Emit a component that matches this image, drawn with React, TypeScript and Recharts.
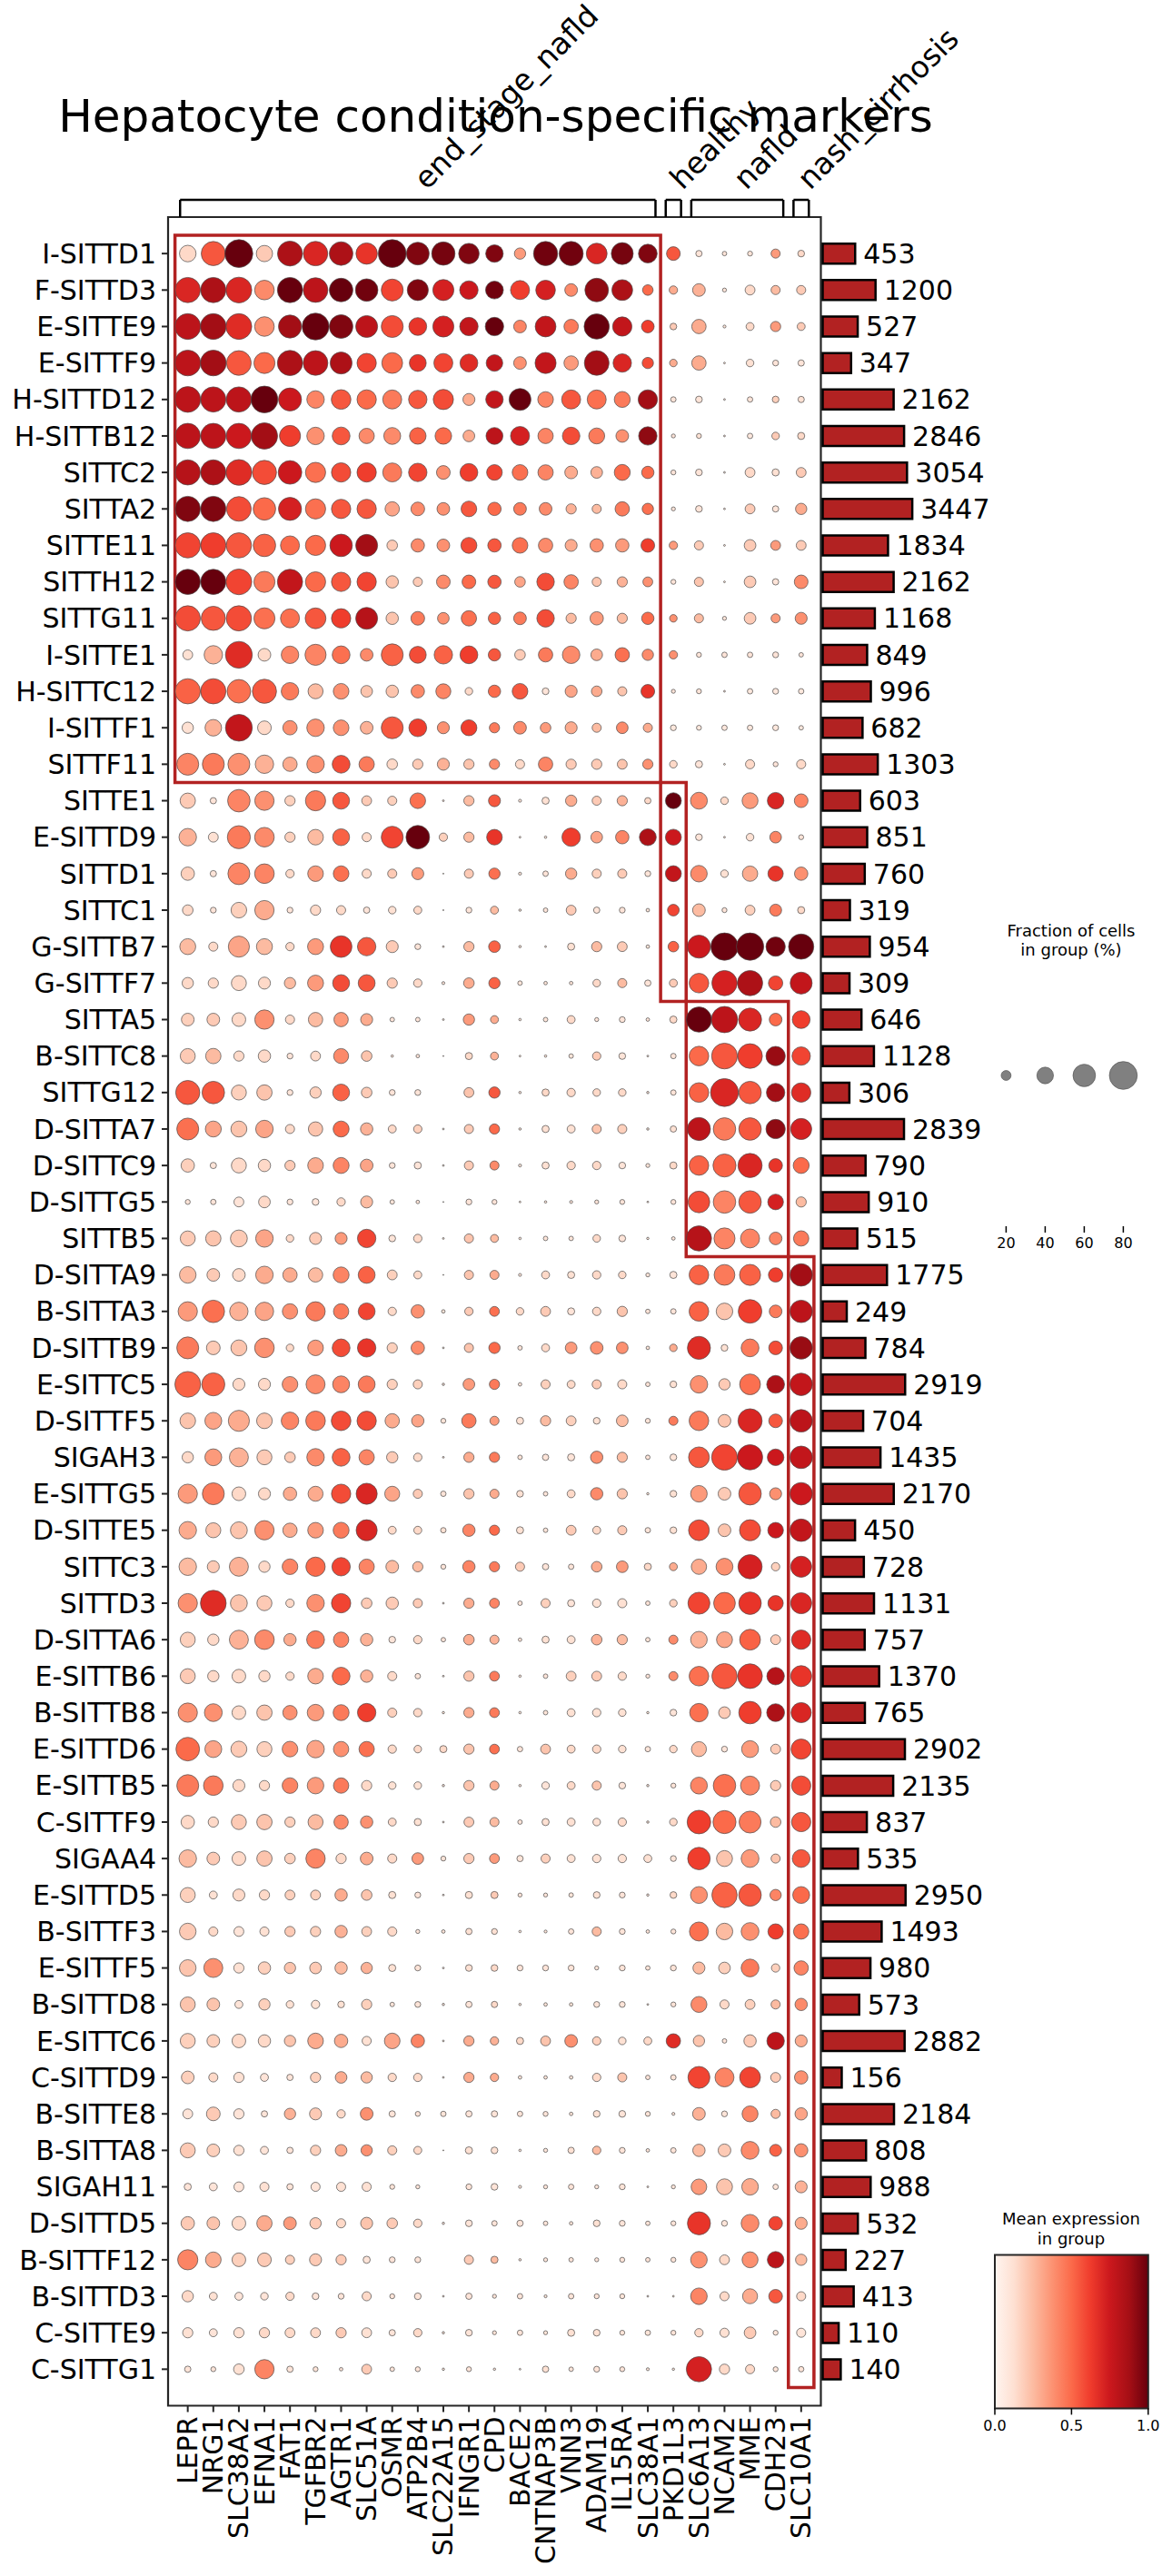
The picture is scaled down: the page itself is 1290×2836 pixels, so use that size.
import {
  Bar,
  BarChart,
  LabelList,
  ReferenceArea,
  ReferenceDot,
  ReferenceLine,
  Scatter,
  ScatterChart,
  XAxis,
  YAxis,
} from "recharts"

const FONT = "'DejaVu Sans', Verdana, sans-serif"
const W = 1290
const H = 2836

const genes = [
  "LEPR", "NRG1", "SLC38A2", "EFNA1", "FAT1", "TGFBR2", "AGTR1", "SLC51A", "OSMR",
  "ATP2B4", "SLC22A15", "IFNGR1", "CPD", "BACE2", "CNTNAP3B", "VNN3", "ADAM19",
  "IL15RA", "SLC38A1", "PKD1L3", "SLC6A13", "NCAM2", "MME", "CDH23", "SLC10A1",
]

const conditions = ["end_stage_nafld", "healthy", "nafld", "nash_cirrhosis"]
const genesPerCondition = [19, 1, 4, 1]
const rowsPerCondition = [15, 6, 7, 31]

const cellTypes = [
  "I-SITTD1", "F-SITTD3", "E-SITTE9", "E-SITTF9", "H-SITTD12", "H-SITTB12", "SITTC2",
  "SITTA2", "SITTE11", "SITTH12", "SITTG11", "I-SITTE1", "H-SITTC12", "I-SITTF1", "SITTF11",
  "SITTE1", "E-SITTD9", "SITTD1", "SITTC1", "G-SITTB7", "G-SITTF7",
  "SITTA5", "B-SITTC8", "SITTG12", "D-SITTA7", "D-SITTC9", "D-SITTG5", "SITTB5",
  "D-SITTA9", "B-SITTA3", "D-SITTB9", "E-SITTC5", "D-SITTF5", "SIGAH3", "E-SITTG5",
  "D-SITTE5", "SITTC3", "SITTD3", "D-SITTA6", "E-SITTB6", "B-SITTB8", "E-SITTD6",
  "E-SITTB5", "C-SITTF9", "SIGAA4", "E-SITTD5", "B-SITTF3", "E-SITTF5", "B-SITTD8",
  "E-SITTC6", "C-SITTD9", "B-SITTE8", "B-SITTA8", "SIGAH11", "D-SITTD5", "B-SITTF12",
  "B-SITTD3", "C-SITTE9", "C-SITTG1",
]

const cellCounts = [
  453, 1200, 527, 347, 2162, 2846, 3054, 3447, 1834, 2162, 1168, 849, 996, 682, 1303,
  603, 851, 760, 319, 954, 309,
  646, 1128, 306, 2839, 790, 910, 515,
  1775, 249, 784, 2919, 704, 1435, 2170, 450, 728, 1131, 757, 1370, 765, 2902, 2135,
  837, 535, 2950, 1493, 980, 573, 2882, 156, 2184, 808, 988, 532, 227, 413, 110, 140,
]

// fraction of cells expressing (%), one row per cell type, one column per gene
const fractionPct = [
  [40, 66, 80, 39, 69, 67, 64, 56, 80, 61, 63, 53, 43, 24, 66, 66, 54, 58, 47, 31, 11, 7, 8, 18, 12],
  [70, 70, 72, 50, 70, 68, 64, 60, 58, 55, 55, 46, 44, 48, 50, 28, 64, 54, 22, 16, 28, 6, 20, 18, 18],
  [72, 72, 72, 50, 62, 76, 64, 58, 58, 44, 55, 46, 46, 28, 54, 33, 70, 49, 28, 12, 33, 4, 15, 21, 15],
  [72, 72, 68, 55, 70, 68, 58, 49, 54, 41, 48, 44, 40, 28, 55, 33, 68, 46, 24, 14, 33, 2, 14, 10, 11],
  [72, 70, 70, 76, 62, 43, 50, 49, 48, 46, 52, 26, 43, 58, 37, 48, 48, 38, 49, 9, 12, 2, 9, 12, 11],
  [70, 70, 70, 74, 55, 43, 44, 36, 41, 40, 40, 25, 41, 48, 36, 43, 38, 28, 46, 6, 8, 2, 9, 14, 13],
  [70, 70, 72, 66, 64, 52, 49, 49, 48, 46, 31, 44, 37, 37, 36, 28, 25, 38, 27, 8, 12, 2, 20, 13, 20],
  [70, 70, 68, 60, 62, 52, 49, 49, 33, 31, 28, 37, 30, 28, 28, 21, 18, 33, 24, 6, 12, 2, 20, 11, 24],
  [70, 70, 70, 60, 48, 52, 60, 58, 22, 30, 28, 38, 30, 37, 33, 26, 30, 30, 31, 16, 18, 2, 25, 20, 20],
  [70, 70, 72, 55, 70, 52, 49, 49, 27, 18, 31, 31, 30, 22, 43, 33, 18, 21, 20, 8, 18, 2, 25, 11, 31],
  [70, 66, 70, 55, 48, 54, 49, 58, 27, 31, 25, 36, 27, 28, 43, 21, 30, 21, 27, 14, 18, 6, 25, 18, 26],
  [20, 46, 76, 28, 43, 55, 44, 28, 58, 41, 46, 44, 27, 22, 33, 43, 25, 33, 24, 16, 8, 9, 9, 10, 7],
  [70, 70, 64, 66, 43, 35, 37, 25, 27, 30, 35, 14, 27, 37, 12, 26, 22, 18, 31, 6, 8, 2, 9, 10, 9],
  [24, 40, 76, 31, 33, 43, 37, 28, 58, 44, 26, 38, 21, 28, 22, 26, 18, 25, 18, 10, 8, 9, 9, 10, 7],
  [58, 58, 58, 46, 33, 43, 44, 36, 22, 21, 26, 21, 21, 18, 33, 21, 21, 20, 21, 14, 13, 2, 18, 8, 18],
  [36, 11, 60, 49, 21, 52, 41, 20, 18, 37, 2, 21, 26, 4, 13, 24, 18, 21, 11, 38, 41, 14, 38, 40, 31],
  [43, 20, 62, 50, 21, 37, 41, 18, 58, 64, 16, 21, 37, 2, 3, 46, 25, 30, 41, 38, 12, 2, 14, 25, 8],
  [30, 11, 58, 50, 16, 37, 37, 18, 18, 26, 1, 18, 24, 4, 9, 24, 18, 18, 10, 38, 40, 14, 36, 36, 30],
  [22, 10, 37, 49, 10, 21, 18, 11, 14, 15, 1, 10, 15, 3, 7, 20, 11, 10, 5, 25, 28, 8, 20, 26, 13],
  [38, 18, 55, 38, 16, 38, 57, 46, 26, 10, 2, 21, 25, 3, 2, 13, 21, 20, 5, 22, 62, 78, 78, 49, 70],
  [24, 21, 35, 26, 24, 38, 41, 41, 21, 16, 4, 22, 24, 7, 5, 5, 14, 18, 11, 15, 50, 70, 70, 33, 58],
  [28, 28, 31, 49, 18, 33, 33, 26, 7, 7, 2, 24, 15, 3, 7, 15, 6, 10, 5, 13, 70, 74, 62, 28, 44],
  [35, 36, 21, 27, 10, 20, 35, 22, 3, 5, 1, 13, 15, 2, 3, 7, 16, 12, 2, 9, 50, 72, 68, 49, 46],
  [66, 60, 35, 36, 10, 24, 41, 22, 10, 10, 0, 20, 24, 3, 13, 16, 14, 14, 3, 9, 50, 80, 60, 46, 49],
  [58, 38, 38, 43, 18, 33, 38, 27, 15, 16, 2, 18, 21, 3, 13, 15, 18, 18, 3, 11, 62, 60, 60, 49, 55],
  [30, 11, 35, 27, 21, 37, 38, 28, 10, 13, 2, 18, 18, 4, 13, 16, 16, 12, 6, 13, 50, 62, 66, 31, 38],
  [8, 9, 20, 25, 10, 12, 16, 26, 7, 5, 1, 10, 8, 2, 3, 4, 6, 8, 2, 8, 57, 60, 60, 37, 21],
  [35, 36, 41, 43, 14, 26, 26, 46, 12, 16, 2, 18, 15, 3, 7, 7, 14, 12, 3, 5, 70, 55, 48, 28, 36],
  [40, 28, 28, 43, 33, 33, 38, 41, 20, 15, 1, 18, 18, 4, 15, 13, 16, 14, 6, 13, 50, 54, 55, 33, 60],
  [49, 60, 46, 46, 36, 49, 36, 41, 16, 30, 5, 16, 20, 14, 20, 13, 16, 21, 7, 9, 50, 40, 64, 28, 60],
  [58, 31, 38, 50, 14, 37, 44, 46, 21, 30, 2, 18, 24, 7, 15, 25, 28, 25, 5, 14, 62, 12, 44, 31, 60],
  [72, 62, 26, 26, 37, 48, 41, 41, 21, 18, 3, 25, 21, 5, 18, 15, 18, 18, 7, 12, 43, 24, 54, 44, 60],
  [37, 41, 55, 37, 43, 50, 50, 49, 33, 27, 8, 33, 18, 13, 21, 20, 12, 25, 8, 18, 50, 28, 66, 31, 60],
  [24, 41, 48, 35, 22, 43, 44, 36, 24, 16, 2, 21, 21, 7, 11, 13, 27, 21, 7, 12, 54, 72, 70, 40, 60],
  [49, 58, 31, 26, 30, 35, 49, 55, 35, 18, 9, 21, 18, 12, 7, 15, 27, 21, 3, 12, 40, 28, 60, 26, 60],
  [43, 35, 41, 49, 33, 37, 38, 55, 15, 15, 9, 27, 21, 13, 7, 20, 15, 18, 9, 12, 54, 28, 55, 37, 60],
  [43, 26, 48, 24, 37, 49, 46, 36, 28, 21, 8, 27, 21, 18, 11, 9, 22, 25, 13, 15, 36, 41, 66, 16, 55],
  [49, 72, 41, 35, 16, 43, 49, 22, 27, 18, 2, 21, 20, 7, 18, 13, 16, 18, 7, 14, 58, 57, 60, 36, 55],
  [35, 24, 48, 50, 27, 44, 36, 27, 12, 16, 7, 22, 18, 5, 13, 15, 22, 21, 7, 18, 40, 38, 54, 20, 49],
  [35, 24, 31, 24, 16, 37, 44, 27, 18, 9, 2, 21, 20, 3, 7, 20, 20, 16, 6, 18, 50, 70, 68, 43, 55],
  [49, 44, 31, 36, 33, 40, 38, 46, 18, 16, 3, 21, 20, 3, 7, 15, 16, 14, 3, 12, 46, 25, 60, 44, 52],
  [64, 41, 38, 35, 37, 43, 36, 36, 16, 14, 13, 21, 20, 9, 20, 15, 16, 14, 9, 14, 35, 10, 41, 20, 52],
  [58, 50, 26, 21, 37, 40, 36, 21, 14, 14, 3, 21, 18, 3, 14, 15, 18, 12, 3, 8, 41, 60, 48, 21, 49],
  [30, 21, 35, 36, 21, 35, 33, 27, 15, 13, 2, 20, 18, 7, 13, 15, 14, 16, 3, 14, 64, 62, 58, 22, 49],
  [43, 28, 31, 36, 22, 49, 21, 28, 18, 25, 8, 21, 20, 11, 18, 15, 16, 16, 15, 10, 60, 38, 44, 18, 44],
  [35, 15, 26, 21, 20, 20, 27, 22, 13, 10, 2, 13, 13, 6, 6, 7, 12, 10, 3, 12, 41, 70, 60, 24, 41],
  [40, 18, 20, 18, 21, 21, 27, 20, 18, 6, 5, 11, 10, 3, 4, 9, 18, 10, 5, 8, 48, 40, 44, 36, 36],
  [40, 48, 21, 27, 24, 25, 27, 24, 13, 10, 2, 12, 12, 10, 10, 10, 6, 10, 7, 10, 26, 25, 44, 16, 33],
  [35, 28, 15, 24, 14, 16, 12, 21, 7, 10, 3, 11, 11, 3, 5, 5, 10, 10, 2, 8, 38, 18, 20, 18, 27],
  [35, 28, 31, 27, 24, 37, 30, 18, 37, 30, 2, 21, 16, 13, 20, 28, 16, 14, 15, 33, 24, 7, 27, 43, 26],
  [28, 18, 21, 15, 11, 21, 25, 24, 16, 16, 2, 21, 16, 5, 5, 5, 16, 18, 7, 9, 58, 48, 54, 20, 30],
  [20, 31, 21, 11, 24, 26, 16, 28, 11, 8, 9, 11, 11, 9, 8, 5, 12, 12, 8, 4, 28, 10, 38, 18, 27],
  [35, 28, 21, 15, 11, 21, 25, 24, 18, 15, 1, 13, 12, 3, 6, 11, 16, 10, 5, 9, 27, 28, 44, 26, 30],
  [13, 15, 20, 18, 11, 18, 18, 18, 8, 6, 0, 10, 12, 4, 6, 9, 6, 10, 2, 6, 37, 38, 40, 9, 26],
  [30, 28, 31, 36, 28, 24, 18, 26, 22, 16, 3, 12, 9, 11, 7, 5, 12, 10, 7, 8, 62, 10, 44, 31, 26],
  [52, 37, 31, 31, 18, 26, 21, 13, 10, 10, 0, 18, 13, 3, 6, 7, 6, 8, 7, 8, 40, 20, 38, 40, 24],
  [24, 15, 15, 14, 16, 12, 10, 18, 8, 12, 2, 11, 6, 9, 4, 9, 8, 8, 2, 2, 40, 18, 35, 31, 18],
  [21, 15, 21, 21, 20, 20, 21, 20, 11, 16, 3, 12, 6, 9, 6, 13, 12, 8, 9, 8, 16, 18, 25, 8, 18],
  [11, 8, 22, 49, 11, 8, 5, 20, 7, 8, 3, 8, 3, 2, 11, 7, 10, 8, 4, 3, 70, 21, 18, 8, 9],
]

// scaled mean expression (0..1), same layout
const meanExpr = [
  [.15, .55, 1, .2, .85, .7, .85, .65, 1, .95, .97, .95, .95, .35, .98, .98, .7, .97, .95, .55, .1, .1, .1, .35, .15],
  [.7, .85, .7, .4, 1, .8, 1, .98, .6, .95, .72, .75, .98, .62, .72, .4, .92, .85, .5, .3, .28, .1, .15, .25, .2],
  [.8, .88, .68, .38, .88, 1, .95, .8, .58, .65, .72, .78, 1, .42, .78, .45, 1, .78, .62, .2, .3, .1, .15, .35, .2],
  [.8, .88, .55, .5, .85, .8, .85, .6, .5, .65, .6, .68, .78, .38, .78, .35, .88, .7, .58, .3, .3, .1, .12, .1, .1],
  [.8, .8, .8, 1, .75, .42, .55, .5, .45, .55, .58, .3, .78, 1, .42, .55, .48, .45, .88, .1, .1, .1, .1, .18, .12],
  [.8, .8, .75, .88, .62, .38, .55, .4, .4, .52, .5, .3, .8, .72, .42, .58, .45, .38, .92, .1, .12, .1, .08, .2, .15],
  [.82, .85, .68, .58, .75, .48, .58, .62, .45, .6, .38, .62, .6, .48, .42, .3, .28, .5, .5, .1, .1, .1, .15, .12, .2],
  [.95, .95, .58, .5, .72, .48, .55, .55, .32, .4, .38, .55, .5, .45, .4, .28, .25, .45, .48, .1, .1, .1, .2, .1, .3],
  [.6, .62, .55, .52, .5, .5, .75, .88, .2, .4, .38, .58, .55, .48, .4, .3, .38, .35, .62, .35, .2, .1, .2, .35, .2],
  [1, 1, .6, .45, .78, .5, .55, .6, .22, .2, .4, .5, .55, .32, .58, .42, .22, .28, .38, .1, .22, .1, .2, .1, .4],
  [.58, .55, .58, .48, .48, .55, .62, .82, .22, .45, .38, .48, .52, .45, .58, .25, .35, .25, .5, .38, .25, .1, .2, .35, .38],
  [.12, .28, .68, .15, .42, .42, .48, .4, .52, .58, .52, .62, .55, .2, .45, .4, .3, .48, .4, .38, .1, .1, .1, .1, .1],
  [.52, .58, .48, .55, .45, .25, .38, .22, .22, .4, .42, .15, .5, .55, .1, .32, .3, .22, .65, .1, .1, .1, .08, .08, .08],
  [.12, .28, .78, .15, .38, .38, .38, .28, .55, .62, .38, .62, .45, .4, .35, .3, .25, .4, .3, .08, .08, .08, .08, .08, .08],
  [.42, .45, .38, .28, .3, .38, .58, .45, .15, .2, .28, .22, .4, .15, .42, .2, .2, .22, .38, .15, .1, .1, .15, .1, .15],
  [.2, .1, .42, .38, .18, .45, .55, .2, .18, .48, .1, .25, .55, .1, .12, .3, .2, .28, .15, 1, .4, .15, .35, .7, .42],
  [.28, .12, .45, .4, .18, .25, .52, .15, .6, 1, .18, .25, .65, .1, .1, .62, .32, .42, .85, .75, .1, .1, .12, .42, .1],
  [.18, .1, .42, .42, .15, .35, .48, .15, .2, .35, .1, .2, .48, .1, .1, .3, .18, .2, .1, .78, .4, .12, .3, .65, .38],
  [.15, .1, .18, .3, .1, .15, .15, .1, .12, .15, .1, .1, .25, .1, .1, .2, .1, .1, .1, .6, .25, .1, .18, .45, .15],
  [.25, .15, .32, .25, .15, .35, .65, .55, .2, .1, .1, .25, .52, .1, .1, .12, .25, .2, .1, .52, .75, 1, 1, .98, 1],
  [.15, .15, .15, .15, .25, .35, .58, .55, .2, .15, .1, .3, .52, .1, .1, .1, .15, .25, .1, .2, .55, .72, .85, .6, .78],
  [.18, .2, .15, .38, .15, .25, .35, .3, .1, .1, .1, .35, .3, .1, .1, .15, .1, .1, .1, .15, 1, .8, .7, .5, .62],
  [.2, .25, .15, .15, .1, .15, .4, .22, .1, .1, .1, .15, .28, .1, .1, .1, .2, .1, .1, .1, .5, .55, .62, .9, .6],
  [.55, .55, .18, .22, .1, .18, .52, .2, .1, .1, .1, .22, .55, .1, .15, .15, .15, .15, .1, .1, .52, .7, .55, .88, .68],
  [.48, .32, .22, .32, .15, .22, .5, .28, .15, .18, .1, .2, .5, .1, .12, .12, .22, .18, .1, .12, .8, .45, .55, .92, .72],
  [.18, .1, .15, .15, .2, .3, .42, .32, .1, .1, .1, .2, .4, .1, .12, .15, .15, .1, .1, .15, .52, .52, .7, .65, .5],
  [.1, .1, .1, .15, .1, .1, .15, .25, .1, .1, .1, .1, .1, .1, .1, .1, .1, .1, .1, .1, .58, .42, .55, .72, .25],
  [.2, .22, .2, .32, .15, .2, .35, .6, .1, .15, .1, .22, .25, .1, .1, .1, .15, .1, .1, .1, .82, .42, .42, .42, .45],
  [.25, .2, .15, .3, .3, .25, .42, .52, .18, .15, .1, .22, .3, .1, .15, .12, .15, .15, .1, .1, .52, .45, .52, .62, .88],
  [.35, .48, .28, .32, .38, .45, .45, .6, .15, .38, .1, .2, .48, .15, .2, .1, .15, .22, .1, .1, .52, .22, .62, .45, .8],
  [.45, .2, .22, .38, .15, .35, .58, .65, .18, .4, .1, .22, .5, .1, .15, .35, .38, .38, .1, .3, .68, .12, .45, .58, .9],
  [.52, .52, .15, .15, .38, .4, .42, .45, .18, .18, .1, .35, .45, .1, .18, .15, .2, .15, .1, .12, .38, .2, .48, .85, .78],
  [.22, .32, .3, .22, .42, .45, .58, .58, .3, .32, .1, .45, .35, .12, .25, .18, .12, .25, .1, .45, .45, .22, .7, .55, .8],
  [.15, .35, .28, .2, .2, .4, .52, .42, .2, .15, .1, .3, .45, .1, .1, .1, .38, .25, .1, .1, .55, .6, .75, .75, .78],
  [.35, .45, .15, .15, .3, .3, .58, .7, .32, .2, .1, .22, .3, .12, .1, .15, .4, .22, .1, .12, .35, .2, .55, .38, .75],
  [.3, .22, .22, .38, .3, .35, .45, .7, .15, .15, .12, .42, .5, .12, .1, .2, .15, .2, .1, .12, .58, .22, .58, .75, .78],
  [.25, .2, .28, .15, .42, .5, .6, .42, .25, .25, .1, .42, .45, .2, .1, .1, .3, .35, .15, .3, .3, .38, .72, .18, .72],
  [.38, .68, .22, .2, .15, .38, .6, .2, .2, .2, .1, .3, .42, .1, .18, .1, .12, .12, .1, .18, .6, .5, .65, .65, .7],
  [.18, .15, .28, .4, .3, .45, .42, .28, .1, .15, .1, .3, .28, .1, .12, .12, .28, .25, .1, .4, .28, .32, .52, .2, .68],
  [.2, .15, .15, .15, .15, .3, .5, .28, .15, .1, .1, .22, .45, .1, .1, .18, .2, .15, .1, .4, .48, .55, .65, .82, .65],
  [.38, .38, .15, .22, .38, .35, .45, .62, .18, .15, .1, .3, .45, .1, .1, .12, .12, .12, .1, .1, .48, .2, .62, .85, .7],
  [.5, .32, .2, .18, .38, .32, .38, .48, .15, .15, .15, .22, .48, .1, .22, .15, .15, .12, .1, .15, .25, .1, .35, .2, .6],
  [.45, .45, .15, .15, .42, .35, .45, .15, .12, .12, .1, .22, .3, .1, .1, .15, .22, .1, .1, .1, .42, .48, .42, .2, .58],
  [.15, .15, .2, .22, .18, .25, .4, .38, .15, .12, .1, .2, .25, .1, .12, .12, .12, .15, .1, .15, .62, .5, .45, .25, .55],
  [.25, .2, .15, .22, .18, .42, .15, .3, .15, .35, .1, .2, .35, .1, .18, .12, .12, .12, .12, .1, .62, .22, .35, .22, .55],
  [.18, .12, .15, .15, .18, .18, .3, .22, .12, .1, .1, .12, .2, .1, .1, .1, .12, .1, .1, .15, .38, .52, .55, .42, .5],
  [.2, .15, .1, .12, .2, .18, .28, .18, .15, .1, .1, .12, .12, .1, .1, .1, .25, .1, .1, .1, .48, .25, .38, .62, .48],
  [.22, .38, .12, .18, .22, .2, .25, .28, .12, .1, .1, .12, .15, .1, .1, .1, .1, .1, .1, .1, .25, .18, .45, .18, .42],
  [.22, .22, .1, .18, .12, .12, .12, .18, .1, .1, .1, .1, .15, .1, .1, .1, .1, .1, .1, .1, .4, .15, .18, .25, .4],
  [.18, .18, .15, .15, .22, .3, .3, .12, .32, .42, .1, .3, .28, .15, .22, .38, .18, .12, .15, .68, .22, .1, .2, .8, .3],
  [.18, .15, .12, .1, .1, .18, .3, .25, .15, .15, .1, .3, .3, .1, .1, .1, .15, .22, .1, .1, .6, .42, .6, .2, .38],
  [.1, .2, .1, .1, .28, .2, .15, .38, .1, .1, .1, .1, .1, .1, .1, .1, .12, .1, .1, .1, .28, .1, .42, .25, .32],
  [.2, .18, .12, .1, .1, .18, .3, .38, .18, .15, .1, .12, .12, .1, .1, .12, .25, .1, .1, .1, .25, .2, .4, .52, .38],
  [.1, .1, .1, .12, .1, .1, .12, .12, .1, .1, .1, .1, .1, .1, .1, .1, .1, .1, .1, .1, .35, .22, .3, .1, .28],
  [.2, .22, .15, .3, .35, .2, .15, .22, .2, .15, .1, .1, .1, .1, .1, .1, .12, .1, .1, .1, .65, .1, .4, .6, .3],
  [.42, .3, .18, .2, .18, .2, .2, .1, .1, .1, .1, .2, .25, .1, .1, .1, .1, .1, .1, .1, .38, .15, .38, .8, .25],
  [.15, .12, .1, .1, .15, .1, .1, .15, .1, .1, .1, .1, .1, .1, .1, .1, .1, .1, .1, .1, .42, .15, .3, .55, .15],
  [.12, .1, .12, .15, .15, .15, .2, .12, .1, .15, .1, .1, .1, .1, .1, .12, .12, .1, .1, .1, .15, .12, .2, .1, .1],
  [.1, .1, .12, .42, .1, .1, .1, .2, .1, .1, .1, .1, .1, .1, .12, .1, .1, .1, .1, .1, .72, .15, .15, .1, .1],
]

const legendSizes = [20, 40, 60, 80]
const colorbarTicks = [0, 0.5, 1]

// matplotlib "Reds"
const redsStops = [
  "#fff5f0", "#fee0d2", "#fcbba1", "#fc9272", "#fb6a4a",
  "#ef3b2c", "#cb181d", "#a50f15", "#67000d",
]

function hexToRgb(hex: string) {
  const n = parseInt(hex.slice(1), 16)
  return [(n >> 16) & 255, (n >> 8) & 255, n & 255]
}

function reds(t: number) {
  const v = Math.max(0, Math.min(1, t)) * (redsStops.length - 1)
  const i = Math.min(redsStops.length - 2, Math.floor(v))
  const f = v - i
  const a = hexToRgb(redsStops[i])
  const b = hexToRgb(redsStops[i + 1])
  const c = a.map((x, k) => Math.round(x + (b[k] - x) * f))
  return `rgb(${c[0]},${c[1]},${c[2]})`
}

// scanpy: area ~ (frac / dot_max) ** 1.5
const DOT_MAX_PCT = 80
const DOT_MAX_PX = 30.7
function dotRadius(pct: number) {
  return (DOT_MAX_PX * Math.pow(pct / DOT_MAX_PCT, 0.75)) / 2
}

function spans(counts: number[]) {
  let s = 0
  return counts.map((n) => {
    const a = s
    s += n
    return [a, s - 1]
  })
}

const geneSpans = spans(genesPerCondition)
const rowSpans = spans(rowsPerCondition)
const geneIdx = genes.map((_, i) => i)
const rowIdx = cellTypes.map((_, i) => i)

const dots = cellTypes.flatMap((_, r) =>
  genes
    .map((_, c) => ({ x: c, y: r, frac: fractionPct[r][c], expr: meanExpr[r][c] }))
    .filter((d) => d.frac > 0),
)

const barData = cellTypes.map((name, i) => ({ name, count: cellCounts[i] }))
const legendData = legendSizes.map((v) => ({ x: v, y: 1, frac: v }))
const colorbarData = [{ name: "mean expression", value: 1 }]

const BRACKET_Y = -1.473
const BRACKET_PAD = 0.3

function DotShape(props: any) {
  const { cx, cy, payload } = props
  return (
    <circle
      cx={cx}
      cy={cy}
      r={dotRadius(payload.frac)}
      fill={reds(payload.expr)}
      stroke="#4a4a4a"
      strokeWidth={0.7}
    />
  )
}

function LegendDot(props: any) {
  const { cx, cy, payload } = props
  return (
    <circle cx={cx} cy={cy} r={dotRadius(payload.frac)} fill="#808080" stroke="#555" strokeWidth={0.7} />
  )
}

function GeneTick(props: any) {
  const { x, y, payload } = props
  return (
    <text
      x={x}
      y={y}
      transform={`rotate(-90 ${x} ${y})`}
      textAnchor="end"
      dominantBaseline="central"
      fontSize={30}
      fontFamily={FONT}
      fill="#000"
    >
      {genes[payload.value]}
    </text>
  )
}

function GroupLabel(props: any) {
  const { viewBox, text } = props
  if (!viewBox) return null
  const x = viewBox.x + 10
  const y = viewBox.y - 10
  return (
    <text x={x} y={y} transform={`rotate(-45 ${x} ${y})`} fontSize={33} fontFamily={FONT} fill="#000">
      {text}
    </text>
  )
}

const layer: React.CSSProperties = { position: "absolute", left: 0, top: 0 }

export default function App() {
  return (
    <div style={{ position: "relative", width: W, height: H, background: "#fff", fontFamily: FONT }}>
      <style>{"body{margin:0}"}</style>

      <div style={layer}>
        <ScatterChart width={W} height={H} margin={{ top: 239, right: 386.5, bottom: 0, left: 0 }}>
          <XAxis
            type="number"
            dataKey="x"
            domain={[-0.77, 24.77]}
            ticks={geneIdx}
            interval={0}
            allowDataOverflow
            height={187.5}
            axisLine={false}
            tickSize={7}
            tickMargin={5}
            tickLine={{ stroke: "#262626", strokeWidth: 2 }}
            tick={<GeneTick />}
          />
          <YAxis
            type="number"
            dataKey="y"
            domain={[-1, 59]}
            reversed
            ticks={rowIdx}
            interval={0}
            allowDataOverflow
            width={185}
            axisLine={false}
            tickSize={7}
            tickMargin={6}
            tickLine={{ stroke: "#262626", strokeWidth: 2 }}
            tick={{ fontSize: 30, fill: "#000", fontFamily: FONT }}
            tickFormatter={(i: number) => cellTypes[i]}
          />
          <Scatter data={dots} shape={DotShape} isAnimationActive={false} />
          {conditions.map((c, k) => (
            <ReferenceArea
              key={`box-${c}`}
              x1={geneSpans[k][0] - 0.5}
              x2={geneSpans[k][1] + 0.5}
              y1={rowSpans[k][0] - 0.5}
              y2={rowSpans[k][1] + 0.5}
              fill="none"
              fillOpacity={0}
              stroke="#b22222"
              strokeWidth={3.5}
              ifOverflow="visible"
            />
          ))}
          <ReferenceArea
            x1={-0.77}
            x2={24.77}
            y1={-1}
            y2={59}
            fill="none"
            fillOpacity={0}
            stroke="#262626"
            strokeWidth={2.2}
            ifOverflow="visible"
          />
          {conditions.map((c, k) => {
            const a = geneSpans[k][0] - BRACKET_PAD
            const b = geneSpans[k][1] + BRACKET_PAD
            return [
              <ReferenceLine
                key={`bt-${c}`}
                segment={[{ x: a, y: BRACKET_Y }, { x: b, y: BRACKET_Y }]}
                stroke="#000"
                strokeWidth={2.5}
                ifOverflow="visible"
              />,
              <ReferenceLine
                key={`bl-${c}`}
                segment={[{ x: a, y: BRACKET_Y }, { x: a, y: -1 }]}
                stroke="#000"
                strokeWidth={2.5}
                ifOverflow="visible"
              />,
              <ReferenceLine
                key={`br-${c}`}
                segment={[{ x: b, y: BRACKET_Y }, { x: b, y: -1 }]}
                stroke="#000"
                strokeWidth={2.5}
                ifOverflow="visible"
              />,
              <ReferenceDot
                key={`bd-${c}`}
                x={(geneSpans[k][0] + geneSpans[k][1]) / 2}
                y={BRACKET_Y}
                r={0.01}
                fill="none"
                stroke="none"
                ifOverflow="visible"
                label={<GroupLabel text={c} />}
              />,
            ]
          })}
        </ScatterChart>
      </div>

      <div style={layer}>
        <BarChart
          width={W}
          height={H}
          layout="vertical"
          data={barData}
          margin={{ top: 259.2, right: 216.5, bottom: 207.3, left: 905.5 }}
          barCategoryGap={0}
        >
          <XAxis type="number" scale="sqrt" domain={[0, 10000]} hide />
          <YAxis type="category" dataKey="name" hide />
          <Bar dataKey="count" fill="#b22222" stroke="#000" strokeWidth={2.5} barSize={22} isAnimationActive={false}>
            <LabelList dataKey="count" position="right" offset={9} fill="#000" fontSize={30} fontFamily={FONT} />
          </Bar>
        </BarChart>
      </div>

      <div style={layer}>
        <ScatterChart width={W} height={H} margin={{ top: 1184, right: 10.6, bottom: 1446, left: 1064.4 }}>
          <XAxis
            type="number"
            dataKey="x"
            domain={[0, 100]}
            ticks={legendSizes}
            interval={0}
            height={40}
            axisLine={false}
            tickSize={7}
            tickMargin={6}
            tickLine={{ stroke: "#000", strokeWidth: 1.5 }}
            tick={{ fontSize: 16, fill: "#000", fontFamily: FONT }}
          />
          <YAxis type="number" dataKey="y" domain={[0, 1]} hide />
          <Scatter data={legendData} shape={LegendDot} isAnimationActive={false} />
        </ScatterChart>
      </div>

      <div style={layer}>
        <BarChart
          width={W}
          height={H}
          layout="vertical"
          data={colorbarData}
          margin={{ top: 2482.4, right: 26.2, bottom: 144.6, left: 1095 }}
          barCategoryGap={0}
        >
          <defs>
            <linearGradient id="redsGrad" x1="0" y1="0" x2="1" y2="0">
              {redsStops.map((c, i) => (
                <stop key={c} offset={`${(i / (redsStops.length - 1)) * 100}%`} stopColor={c} />
              ))}
            </linearGradient>
          </defs>
          <XAxis
            type="number"
            domain={[0, 1]}
            ticks={colorbarTicks}
            interval={0}
            height={40}
            axisLine={false}
            tickSize={7}
            tickMargin={6}
            tickLine={{ stroke: "#000", strokeWidth: 1.5 }}
            tick={{ fontSize: 16, fill: "#000", fontFamily: FONT }}
            tickFormatter={(v: number) => v.toFixed(1)}
          />
          <YAxis type="category" dataKey="name" hide />
          <Bar dataKey="value" fill="url(#redsGrad)" stroke="#262626" strokeWidth={2} isAnimationActive={false} />
        </BarChart>
      </div>

      <svg width={W} height={H} style={{ ...layer, pointerEvents: "none" }}>
        <text x={545.5} y={145} textAnchor="middle" fontSize={50} fontFamily={FONT} fill="#000">
          Hepatocyte condition-specific markers
        </text>
        <text x={1179} y={1031} textAnchor="middle" fontSize={18} fontFamily={FONT} fill="#000">
          Fraction of cells
        </text>
        <text x={1179} y={1052} textAnchor="middle" fontSize={18} fontFamily={FONT} fill="#000">
          in group (%)
        </text>
        <text x={1179} y={2449} textAnchor="middle" fontSize={18} fontFamily={FONT} fill="#000">
          Mean expression
        </text>
        <text x={1179} y={2471} textAnchor="middle" fontSize={18} fontFamily={FONT} fill="#000">
          in group
        </text>
      </svg>
    </div>
  )
}
